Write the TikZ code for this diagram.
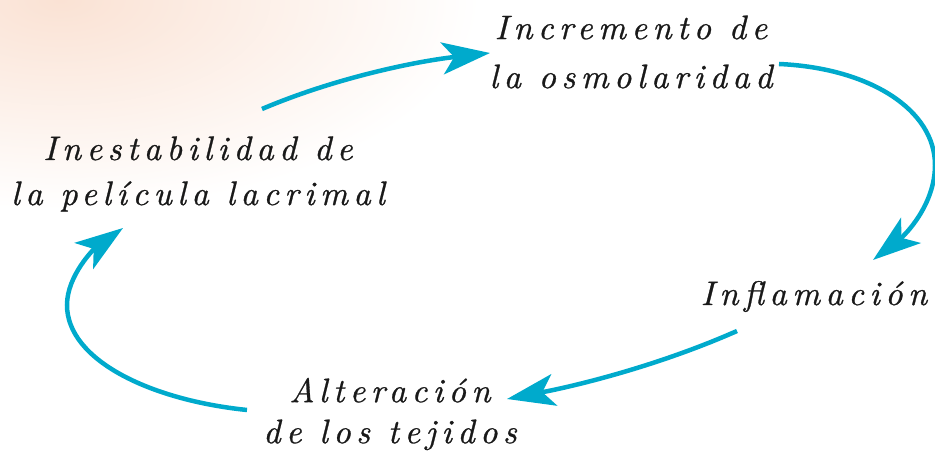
\documentclass[tikz,border=0pt]{standalone}
\usepackage{fontspec}
\usetikzlibrary{arrows.meta}
\newfontfamily\handfont{lmroman10-italic.otf}[LetterSpace=16, FakeBold=0.8]
\definecolor{cyanarr}{RGB}{0,170,204}
\definecolor{peach}{RGB}{250,226,212}
\tikzset{
  cyc/.style={draw=cyanarr, line width=4.5pt, -{Stealth[length=48pt,width=32pt,inset=12pt]}},
  lbl/.style={font=\handfont\fontsize{34}{#1}\selectfont, align=center, inner sep=0pt, text=black!90},
}
\begin{document}
\begin{tikzpicture}[x=1pt,y=-1pt]
\useasboundingbox (0,0) rectangle (935,462);
\begin{scope}
  \clip (0,0) rectangle (935,462);
  \shade[inner color=peach, outer color=white] (60,0) ellipse [x radius=420pt, y radius=210pt];
\end{scope}

\node[lbl=49] (incr) at (631,52) {Incremento de\\la osmolaridad};
\node[lbl=45] (inest) at (198,174) {Inestabilidad de\\la película lacrimal};
\node[lbl=45, anchor=base] (infl) at (814,305) {Inflamación};
\node[lbl=41] (alter) at (390,414) {Alteración\\de los tejidos};

\coordinate (a1s) at (262,109);
\coordinate (a1e) at (490,53);
\coordinate (a2s) at (779,64);
\coordinate (a2m) at (935,165);
\coordinate (a2e) at (873,260);
\coordinate (a3s) at (737,331);
\coordinate (a3e) at (507,399);
\coordinate (a4s) at (247,410);
\coordinate (a4m) at (67,305);
\coordinate (a4e) at (123,228);

\draw[cyc] (a1s) .. controls (330,80) and (410,62) .. (a1e);
\draw[cyc] (a2s) .. controls (870,68) and (935,110) .. (a2m) .. controls (935,205) and (905,235) .. (a2e);
\draw[cyc] (a3s) .. controls (660,365) and (580,385) .. (a3e);
\draw[cyc] (a4s) .. controls (150,400) and (67,360) .. (a4m) .. controls (67,275) and (95,248) .. (a4e);
\end{tikzpicture}
\end{document}
